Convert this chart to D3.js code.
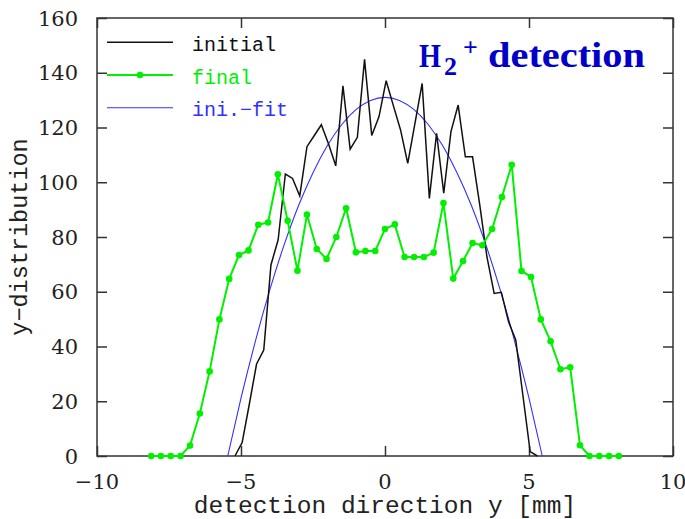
<!DOCTYPE html>
<html>
<head>
<meta charset="utf-8">
<script src="https://cdn.jsdelivr.net/npm/d3@7"></script>
<style>
  body { margin: 0; background: #fff; }
</style>
</head>
<body>
<div id="chart"></div>
<script>
// chart data
var xTicks = [-10, -5, 0, 5, 10];
var yTicks = [0, 20, 40, 60, 80, 100, 120, 140, 160];

var initialX = [-5.21, -4.96, -4.71, -4.46, -4.21, -3.96, -3.71, -3.46, -3.21, -2.96,
    -2.71, -2.46, -2.21, -1.96, -1.71, -1.46, -1.21, -0.96, -0.71, -0.46,
    -0.21, 0.04, 0.29, 0.54, 0.79, 1.04, 1.29, 1.54, 1.79, 2.04,
    2.29, 2.54, 2.79, 3.04, 3.29, 3.54, 3.79, 4.04, 4.29, 4.54,
    4.79, 5.04, 5.29];
var initialY = [0, 4.9, 19, 33.6, 38.7, 69.8, 79, 103, 101.4, 95,
    113, 117, 121, 114, 106, 135.2, 112.1, 116.4, 144.9, 117.1,
    123.9, 137.1, 128, 119.1, 106.9, 121.5, 136.1, 94.1, 117.9, 96.0,
    118.5, 128.2, 109.3, 109.3, 91.7, 72.7, 59.4, 59.8, 49, 42.4,
    22, 1.6, 0];

var finalX = [-8.12, -7.78, -7.44, -7.10, -6.77, -6.43, -6.09, -5.75, -5.41, -5.07,
    -4.74, -4.40, -4.06, -3.72, -3.38, -3.04, -2.71, -2.37, -2.03, -1.69,
    -1.35, -1.01, -0.68, -0.34, 0.00, 0.34, 0.68, 1.01, 1.35, 1.69,
    2.03, 2.37, 2.71, 3.04, 3.38, 3.72, 4.06, 4.40, 4.74, 5.07,
    5.41, 5.75, 6.09, 6.43, 6.77, 7.10, 7.44, 7.78, 8.12];
var finalY = [0, 0, 0, 0, 3.8, 15.5, 30.9, 49.9, 64.7, 73.4,
    75.1, 84.5, 85.3, 102.9, 85.9, 67.7, 88.2, 75.6, 72.0, 80.0,
    90.5, 74.4, 74.9, 74.9, 82.9, 84.6, 72.7, 72.7, 72.7, 74.3,
    92.4, 64.8, 71.2, 77.8, 77.0, 82.9, 94.6, 106.4, 67.6, 65.4,
    49.9, 41.9, 31.7, 32.4, 3.9, 0, 0, 0, 0];

var fitX = [-5.46, -5, -4.5, -4, -3.5, -3, -2.5, -2, -1.5, -1, -0.5, 0,
    0.5, 1, 1.5, 2, 2.5, 3, 3.5, 4, 4.5, 5, 5.46];
var fitY = [0, 21.1, 42.0, 60.7, 77.2, 91.5, 103.5, 113.4, 121.1, 126.6, 129.9, 131,
    129.9, 126.6, 121.1, 113.4, 103.5, 91.5, 77.2, 60.7, 42.0, 21.1, 0];

var legendNames = ["initial", "final", "ini.\u2212fit"];
var legendColors = ["#111111", "#00f000", "#3030ff"];

// chart area
var svgWidth = 685;
var svgHeight = 519;
var margin = { top: 18, right: 12, bottom: 63, left: 97 };
var width = svgWidth - margin.left - margin.right;
var height = svgHeight - margin.top - margin.bottom;

var svg = d3.select("#chart")
    .append("svg")
        .attr("width", svgWidth)
        .attr("height", svgHeight)
    .append("g")
        .attr("transform", `translate(${margin.left}, ${margin.top})`);

var xScale = d3.scaleLinear().domain([-10, 10]).range([0, width]);
var yScale = d3.scaleLinear().domain([0, 160]).range([height, 0]);

var tickLen = 10;

// inward ticks on all four sides, labels drawn separately
svg.append("g")
    .attr("transform", "translate(0," + height + ")")
    .call(d3.axisBottom(xScale).tickValues(xTicks).tickSize(-tickLen).tickFormat(""));
svg.append("g")
    .call(d3.axisTop(xScale).tickValues(xTicks).tickSize(-tickLen).tickFormat(""));
svg.append("g")
    .call(d3.axisLeft(yScale).tickValues(yTicks).tickSize(-tickLen).tickFormat(""));
svg.append("g")
    .attr("transform", "translate(" + width + ",0)")
    .call(d3.axisRight(yScale).tickValues(yTicks).tickSize(-tickLen).tickFormat(""));
svg.selectAll(".domain").remove();
svg.selectAll(".tick line").attr("stroke", "#333").attr("stroke-width", 1.5);

// frame
svg.append("rect")
    .attr("width", width)
    .attr("height", height)
    .attr("fill", "none")
    .attr("stroke", "#333")
    .attr("stroke-width", 1.5);

// tick labels
function fmt(v) { return v < 0 ? "\u2212" + Math.abs(v) : String(v); }
svg.selectAll(".xlab")
    .data(xTicks)
    .enter()
    .append("text")
    .attr("x", d => xScale(d))
    .attr("y", height + 33)
    .attr("text-anchor", "middle")
    .style("font-family", "DejaVu Serif")
    .style("font-size", "21px")
    .attr("fill", "#222")
    .text(fmt);
svg.selectAll(".ylab")
    .data(yTicks)
    .enter()
    .append("text")
    .attr("x", -19)
    .attr("y", d => yScale(d) + 7.5)
    .attr("text-anchor", "end")
    .style("font-family", "DejaVu Serif")
    .style("font-size", "21px")
    .attr("fill", "#222")
    .text(fmt);

// axis titles
svg.append("text")
    .attr("x", width / 2)
    .attr("y", height + 57)
    .attr("text-anchor", "middle")
    .style("font-family", "Liberation Mono")
    .style("font-size", "24.5px")
    .attr("fill", "#222")
    .text("detection direction y [mm]");
svg.append("text")
    .attr("transform", "rotate(-90)")
    .attr("x", -height / 2)
    .attr("y", -70)
    .attr("text-anchor", "middle")
    .style("font-family", "Liberation Mono")
    .style("font-size", "23.5px")
    .attr("fill", "#222")
    .text("y\u2212distribution");

// lines
var fitLine = d3.line()
    .x((d, i) => xScale(fitX[i]))
    .y(d => yScale(d))
    .curve(d3.curveNatural);
svg.append("path")
    .attr("d", fitLine(fitY))
    .attr("fill", "none")
    .attr("stroke", legendColors[2])
    .attr("stroke-width", 1.1);

var initLine = d3.line()
    .x((d, i) => xScale(initialX[i]))
    .y(d => yScale(d));
svg.append("path")
    .attr("d", initLine(initialY))
    .attr("fill", "none")
    .attr("stroke", legendColors[0])
    .attr("stroke-width", 1.5);

var finalLine = d3.line()
    .x((d, i) => xScale(finalX[i]))
    .y(d => yScale(d));
svg.append("path")
    .attr("d", finalLine(finalY))
    .attr("fill", "none")
    .attr("stroke", legendColors[1])
    .attr("stroke-width", 2);
svg.selectAll(".dot")
    .data(finalY)
    .enter()
    .append("circle")
    .attr("cx", (d, i) => xScale(finalX[i]))
    .attr("cy", d => yScale(d))
    .attr("r", 3.3)
    .attr("fill", legendColors[1]);

// legend
var legend = svg.selectAll(".legend")
    .data(legendNames)
    .enter()
    .append("g")
    .attr("transform", (d, i) => "translate(10," + (24.3 + i * 32.7) + ")");
legend.append("line")
    .attr("x1", 0)
    .attr("x2", 66)
    .attr("stroke", (d, i) => legendColors[i])
    .attr("stroke-width", (d, i) => [1.5, 2, 1.1][i]);
legend.filter((d, i) => i == 1)
    .append("circle")
    .attr("cx", 33)
    .attr("r", 3.3)
    .attr("fill", legendColors[1]);
legend.append("text")
    .attr("x", 85)
    .attr("y", 8.5)
    .style("font-family", "Liberation Mono")
    .style("font-size", "20px")
    .attr("fill", (d, i) => legendColors[i])
    .text(d => d);

// title
var title = svg.append("g")
    .style("font-family", "Liberation Serif")
    .style("font-weight", "bold")
    .attr("fill", "#0000c8");
title.append("text").attr("x", 322).attr("y", 49).style("font-size", "34px")
    .attr("textLength", 22).attr("lengthAdjust", "spacingAndGlyphs").text("H");
title.append("text").attr("x", 347).attr("y", 57).style("font-size", "26px").text("2");
title.append("text").attr("x", 366).attr("y", 38).style("font-size", "26px").text("+");
title.append("text").attr("x", 391).attr("y", 49).style("font-size", "36px")
    .attr("textLength", 157).attr("lengthAdjust", "spacingAndGlyphs").text("detection");
</script>
</body>
</html>
